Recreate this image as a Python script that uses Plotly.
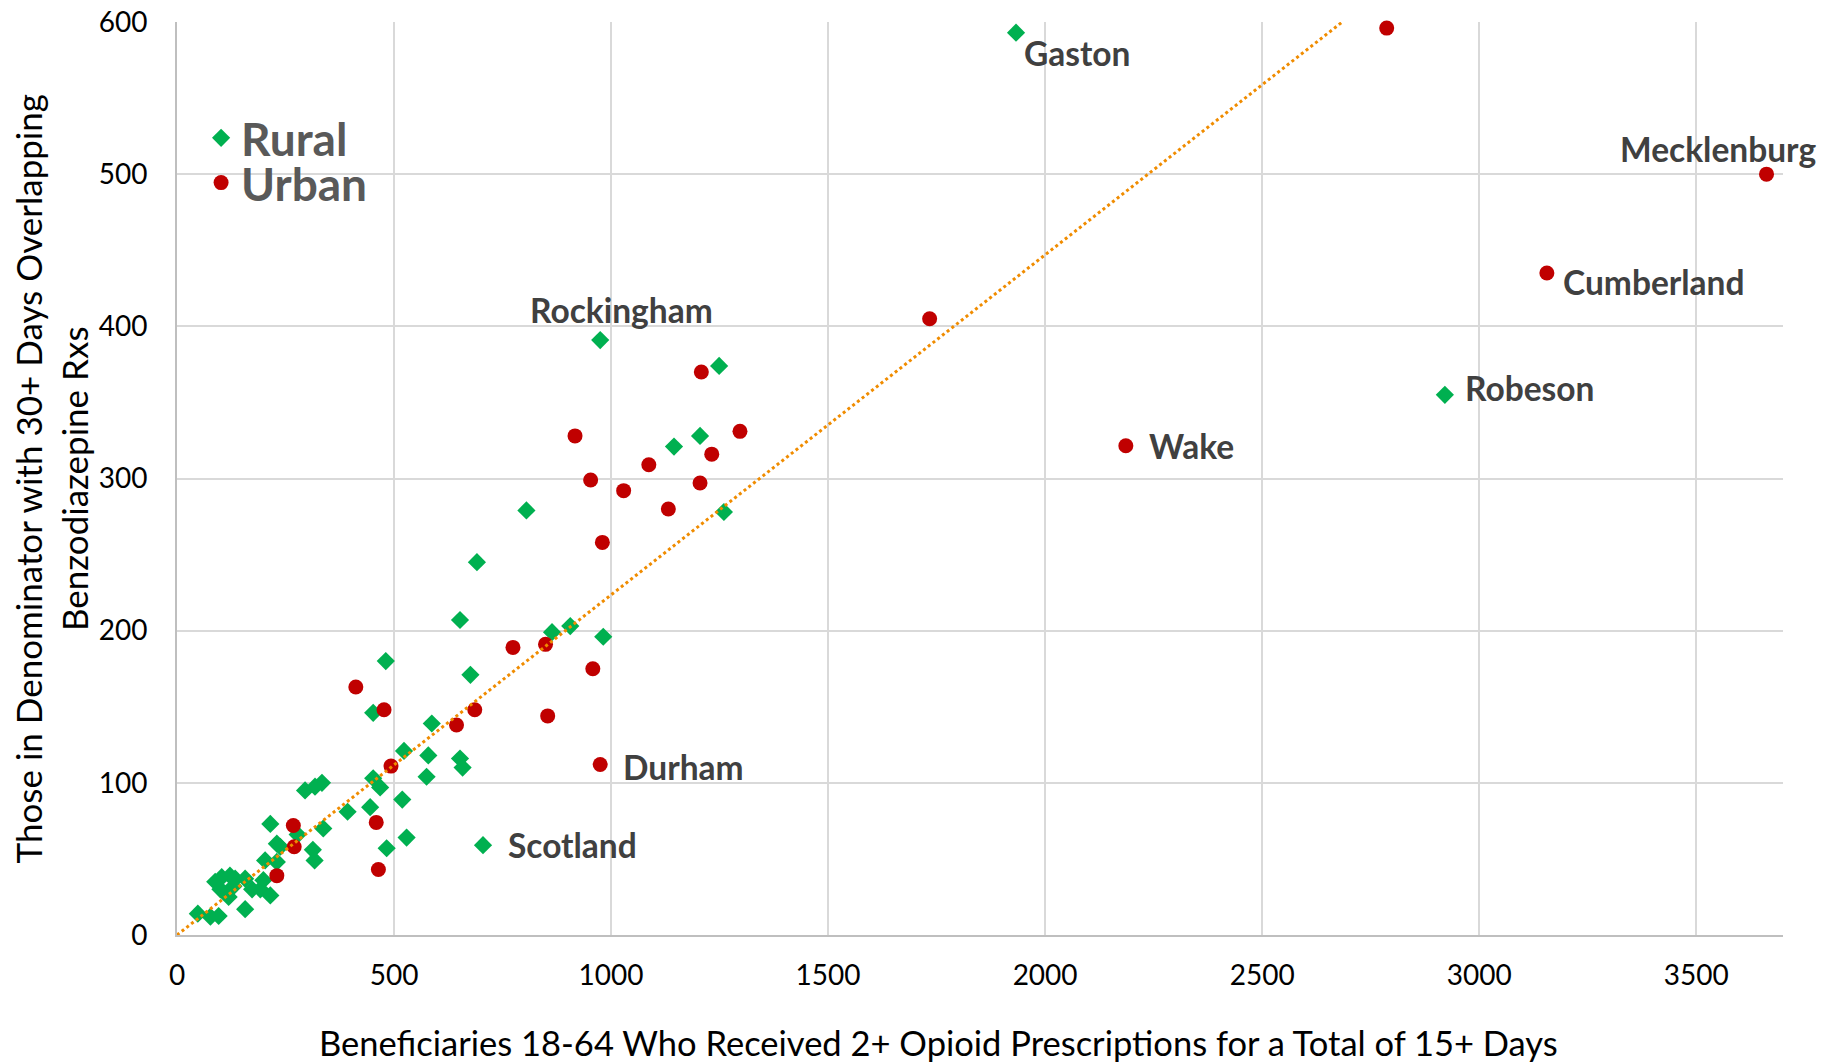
import plotly.graph_objects as go

# ---------------- data ----------------
rural_x = [48, 77, 96, 157, 88, 103, 122, 134, 157, 100, 119, 130, 173, 199, 192, 215,
           203, 230, 230, 238, 215, 278, 313, 317, 337, 295, 318, 334, 393, 445, 452, 468,
           483, 519, 529, 523, 575, 579, 587, 652, 658, 452, 481, 652, 676, 691, 705, 805,
           864, 906, 982, 975, 1145, 1205, 1249, 1260, 1933, 2921]
rural_y = [14, 12, 12.5, 17, 35, 38, 39, 37, 37, 30, 25, 32, 30, 36, 30, 26,
           49, 48, 60, 58, 73, 66, 56, 49, 70, 95, 97.5, 100, 81, 84, 103, 97,
           57, 89, 64, 121, 104, 118, 139, 116, 110, 146, 180, 207, 171, 245, 59, 279,
           199, 203, 196, 391, 321, 328, 374, 278, 593, 355]
rural_names = [""] * len(rural_x)
rural_names[46] = "Scotland"
rural_names[51] = "Rockingham"
rural_names[56] = "Gaston"
rural_names[57] = "Robeson"

urban_x = [230, 270, 268, 464, 459, 493, 412, 477, 644, 686, 774, 849, 854, 958, 975,
           917, 953, 980, 1029, 1087, 1132, 1205, 1208, 1232, 1297, 1734, 2186, 2787,
           3156, 3662]
urban_y = [39, 58, 72, 43, 74, 111, 163, 148, 138, 148, 189, 191, 144, 175, 112,
           328, 299, 258, 292, 309, 280, 297, 370, 316, 331, 405, 321.5, 596,
           435, 500]
urban_names = [""] * len(urban_x)
urban_names[14] = "Durham"
urban_names[26] = "Wake"
urban_names[28] = "Cumberland"
urban_names[29] = "Mecklenburg"

trend_slope = 0.2235  # dotted trend line through the origin

x_ticks = [0, 500, 1000, 1500, 2000, 2500, 3000, 3500]
y_ticks = [0, 100, 200, 300, 400, 500, 600]
x_max = 3700
y_max = 600

x_title = "Beneficiaries 18-64 Who Received 2+ Opioid Prescriptions for a Total of 15+ Days"
y_title = "Those in Denominator with 30+ Days Overlapping<br>Benzodiazepine Rxs"

# ---------------- style ----------------
GREEN = "#00B050"
RED = "#C00000"
ORANGE = "#F08C00"
GRID = "#D9D9D9"
LABEL_COLOR = "#404040"
FONT = "Lato"

# label offsets (pixels) : (xanchor, xshift, yshift)
label_style = {
    "Rockingham": ("center", 21, 30),
    "Gaston": ("left", 6, -20),
    "Robeson": ("left", 18, 7),
    "Scotland": ("left", 23, 0),
    "Durham": ("left", 21, -2),
    "Wake": ("left", 21, 0),
    "Cumberland": ("left", 14, -9),
    "Mecklenburg": ("center", -49, 25),
}

fig = go.Figure()

fig.add_trace(go.Scatter(
    x=rural_x, y=rural_y, mode="markers", name="Rural", legend="legend",
    marker=dict(symbol="diamond", size=14, color=GREEN, line=dict(width=0)),
    cliponaxis=False,
))
fig.add_trace(go.Scatter(
    x=urban_x, y=urban_y, mode="markers", name="Urban", legend="legend2",
    marker=dict(symbol="circle", size=15, color=RED, line=dict(width=0)),
    cliponaxis=False,
))

x_end = y_max / trend_slope
fig.add_trace(go.Scatter(
    x=[0, x_end], y=[0, trend_slope * x_end], mode="lines",
    line=dict(color=ORANGE, width=3, dash="dot"),
    showlegend=False, hoverinfo="skip",
))

annotations = []
for xs, ys, names in [(rural_x, rural_y, rural_names), (urban_x, urban_y, urban_names)]:
    for xv, yv, nm in zip(xs, ys, names):
        if not nm:
            continue
        xa, dx, dy = label_style[nm]
        annotations.append(dict(
            x=xv, y=yv, xref="x", yref="y", text=nm, showarrow=False,
            xanchor=xa, yanchor="middle", xshift=dx, yshift=dy,
            font=dict(family=FONT, size=33.5, color=LABEL_COLOR, weight="bold"),
        ))

# axis titles as annotations
annotations.append(dict(
    x=-0.0785, y=0.5, xref="paper", yref="paper", text=y_title, showarrow=False,
    textangle=-90, xanchor="center", yanchor="middle",
    font=dict(family=FONT, size=35, color="black"),
))
annotations.append(dict(
    x=0.4742, y=-0.118, xref="paper", yref="paper", text=x_title, showarrow=False,
    xanchor="center", yanchor="middle",
    font=dict(family=FONT, size=34.5, color="black"),
))

legend_common = dict(
    xanchor="left", yanchor="middle",
    bgcolor="rgba(0,0,0,0)",
    font=dict(family=FONT, size=46, color="#595959", weight="bold"),
    itemsizing="trace",
)

fig.update_layout(
    width=1835, height=1064,
    margin=dict(l=177, r=52, t=22, b=129),
    paper_bgcolor="white", plot_bgcolor="white",
    font=dict(family=FONT, color="black"),
    annotations=annotations,
    showlegend=True,
    legend=dict(x=0.015, y=0.873, **legend_common),
    legend2=dict(x=0.015, y=0.824, **legend_common),
    xaxis=dict(
        range=[0, x_max], tickvals=x_ticks, ticktext=[str(v) for v in x_ticks],
        showgrid=True, gridcolor=GRID, gridwidth=1.5, zeroline=False,
        showline=True, linecolor="#BFBFBF", linewidth=2,
        ticks="", ticklabelstandoff=14, ticklabeloverflow="allow",
        tickfont=dict(family=FONT, size=28, color="black"),
        automargin=False,
    ),
    yaxis=dict(
        range=[0, y_max], tickvals=y_ticks, ticktext=[str(v) for v in y_ticks],
        showgrid=True, gridcolor=GRID, gridwidth=1.5, zeroline=False,
        showline=True, linecolor="#BFBFBF", linewidth=2,
        ticks="", ticklabelstandoff=22, ticklabeloverflow="allow",
        tickfont=dict(family=FONT, size=28, color="black"),
        automargin=False,
    ),
)

fig.write_html(
    "out.html",
    config={"displayModeBar": False},
    post_script="document.body.style.margin='0';document.body.style.overflow='hidden';",
)
